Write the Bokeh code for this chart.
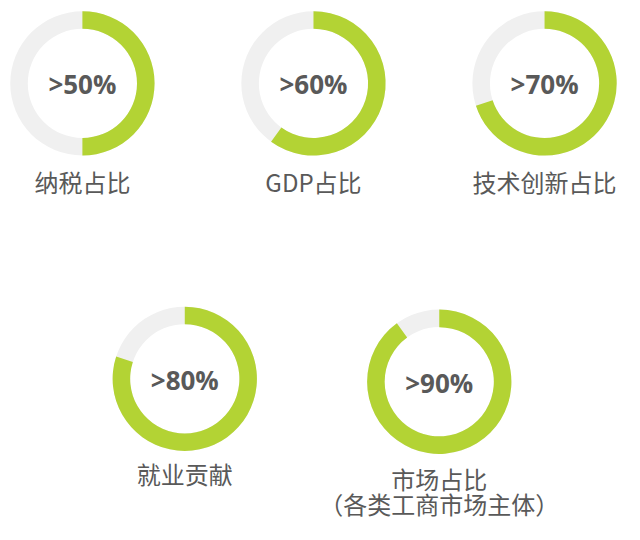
import math
from bokeh.plotting import figure
from bokeh.models import Range1d, ColumnDataSource
from bokeh.core.properties import value
from bokeh.embed import file_html
from bokeh.resources import INLINE

# ---- data ----
percents = [50, 60, 70, 80, 90]
value_labels = [">50%", ">60%", ">70%", ">80%", ">90%"]
categories = ["纳税占比", "GDP占比", "技术创新占比", "就业贡献", "市场占比"]
sub_labels = ["", "", "", "", "（各类工商市场主体）"]

# ---- layout (reference pixel coordinates, y downward) ----
cx = [84, 321, 558, 189, 450]
cy_page = [85, 85, 85, 388, 391]
label_y_page = [186, 186, 186, 485, 490]
sub_y_page = [0, 0, 0, 0, 516]

W, H = 624, 524                 # figure size that fits the 640x540 window
SCALE = W / 640.0               # uniform data->pixel scale
YMAX = H / SCALE

cy = [YMAX - v for v in cy_page]
label_y = [YMAX - v for v in label_y_page]

GREEN = "#B3D334"
GREY = "#F0F0F0"
TEXT = "#595959"
R_OUT, R_IN = 74, 56

p = figure(width=W, height=H, output_backend="svg", toolbar_location=None,
           x_range=Range1d(0, 640), y_range=Range1d(0, YMAX),
           min_border=0, outline_line_color=None)
p.axis.visible = False
p.grid.visible = False
p.background_fill_color = "white"
p.border_fill_color = "white"

start = [math.pi / 2] * len(percents)
end = [math.pi / 2 - f / 100 * 2 * math.pi for f in percents]

src = ColumnDataSource(dict(x=cx, y=cy, start=start, end=end, vl=value_labels,
                            cat=categories, ly=label_y))

p.annulus(x="x", y="y", inner_radius=R_IN, outer_radius=R_OUT, source=src,
          fill_color=GREY, line_color=None)
p.annular_wedge(x="x", y="y", inner_radius=R_IN, outer_radius=R_OUT,
                start_angle="start", end_angle="end", direction="clock",
                source=src, fill_color=GREEN, line_color=None)

p.text(x="x", y="y", text="vl", source=src, text_align="center",
       text_baseline="middle", text_font=value("Open Sans"),
       text_font_style="bold", text_font_size="26px", text_color=TEXT,
       y_offset=1)

p.text(x="x", y="ly", text="cat", source=src, text_align="center",
       text_baseline="middle", text_font=value("Noto Sans CJK SC"),
       text_font_size="24px", text_color=TEXT)

sx = [x for x, s in zip(cx, sub_labels) if s]
sy = [YMAX - y for y, s in zip(sub_y_page, sub_labels) if s]
st = [s for s in sub_labels if s]
p.text(x=sx, y=sy, text=st, text_align="center", text_baseline="middle",
       text_font=value("Noto Sans CJK SC"), text_font_size="24px",
       text_color=TEXT)

open("out.html", "w").write(file_html(p, INLINE))
